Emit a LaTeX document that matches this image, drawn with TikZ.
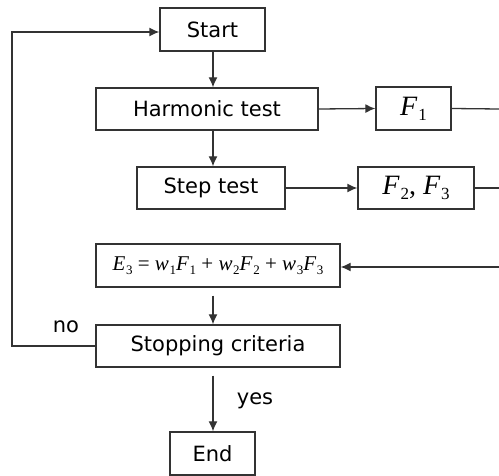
\documentclass[tikz,border=0pt]{standalone}
\usepackage{fontspec}
\setmainfont{DejaVu Sans}
\newfontfamily\tms{Liberation Serif}
\usetikzlibrary{arrows.meta}
\def\subsz{17}
\newcommand\vv[2]{\textit{#1}\kern0.03em\raisebox{-0.4ex}{\fontsize{\subsz}{\subsz}\selectfont #2}}
\begin{document}
\begin{tikzpicture}[x=1pt,y=-1pt,
  box/.style={draw=black!80, line width=1.3pt, inner sep=0pt, font=\fontsize{21}{25}\selectfont},
  conn/.style={draw=black!80, line width=1.3pt},
  arr/.style={conn, -{Latex[length=10pt,width=9pt]}},
  lbl/.style={font=\fontsize{21}{25}\selectfont}]
\useasboundingbox (0,0) rectangle (499,476);
\node[box, minimum width=105, minimum height=43] (start) at (212.5,29.5) {Start};
\node[box, minimum width=222, minimum height=42] (harm) at (207,109) {Harmonic test};
\node[box, minimum width=75, minimum height=43] (f1) at (413.5,108.5) {\tms\fontsize{28}{30}\selectfont\def\subsz{17}\vv{F}{1}};
\node[box, minimum width=116, minimum height=42] (f23) at (416,188) {\tms\fontsize{28}{30}\selectfont\def\subsz{17}\vv{F}{2}, \vv{F}{3}};
\node[box, minimum width=148, minimum height=42] (step) at (211,188) {Step test};
\node[box, minimum width=244, minimum height=43] (e3) at (218,265.5) {\tms\fontsize{21}{23}\selectfont\def\subsz{13}\vv{E}{3} = \vv{w}{1}\vv{F}{1} + \vv{w}{2}\vv{F}{2} + \vv{w}{3}\vv{F}{3}};
\node[box, minimum width=244, minimum height=42] (stop) at (218,346) {Stopping criteria};
\node[box, minimum width=85, minimum height=43] (end) at (212.5,453.5) {End};
\coordinate (r1) at (499,109);
\coordinate (r2) at (499,188);
\coordinate (r3) at (499,267);
\coordinate (l1) at (12,346);
\coordinate (l2) at (12,32);
\draw[arr] (start.south -| 213,0) -- (harm.north -| 213,0);
\draw[arr] (harm.south -| 213,0) -- (step.north -| 213,0);
\draw[arr] (e3.south -| 213,0) ++(0,8) -- (stop.north -| 213,0);
\draw[arr] (stop.south -| 213,0) ++(0,8) -- (end.north -| 213,0);
\draw[arr] (harm.east) -- (f1.west);
\draw[arr] (step.east) -- (f23.west);
\draw[conn] (f1.east) -- (r1);
\draw[conn] (f23.east) -- (r2);
\draw[arr] (r3) -- (e3.east |- r3);
\draw[arr] (stop.west) -- (l1) -- (l2) -- (start.west |- l2);
\node[lbl] (no) at (66,327) {no};
\node[lbl] (yes) at (255,401) {yes};
\end{tikzpicture}
\end{document}
